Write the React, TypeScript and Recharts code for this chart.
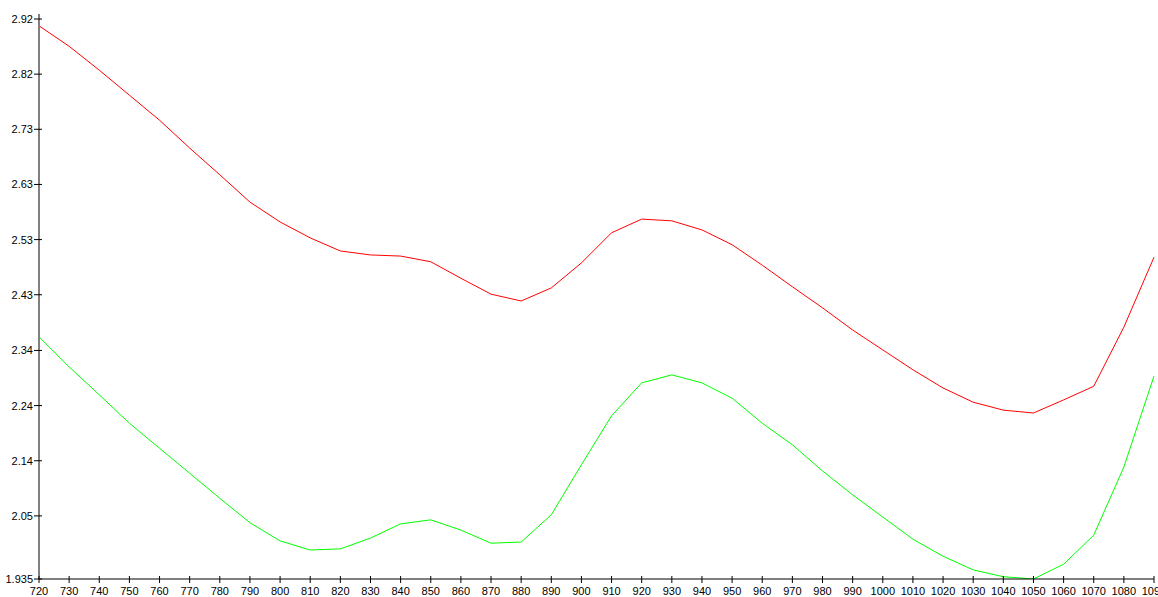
import React from 'react';
import { LineChart, Line, XAxis, YAxis } from 'recharts';

const wavelengths = [
  720, 730, 740, 750, 760, 770, 780, 790, 800, 810,
  820, 830, 840, 850, 860, 870, 880, 890, 900, 910,
  920, 930, 940, 950, 960, 970, 980, 990, 1000, 1010,
  1020, 1030, 1040, 1050, 1060, 1070, 1080, 1090,
];

const redSeries = [
  2.908, 2.872, 2.83, 2.786, 2.742, 2.693, 2.646, 2.598, 2.563, 2.535,
  2.512, 2.505, 2.503, 2.493, 2.464, 2.436, 2.424, 2.447, 2.491, 2.544,
  2.568, 2.565, 2.549, 2.523, 2.487, 2.449, 2.412, 2.373, 2.338, 2.303,
  2.271, 2.246, 2.232, 2.227, 2.25, 2.274, 2.378, 2.501,
];

const greenSeries = [
  2.361, 2.308, 2.259, 2.209, 2.165, 2.121, 2.077, 2.034, 2.002, 1.986,
  1.988, 2.007, 2.032, 2.039, 2.021, 1.998, 2.0, 2.048, 2.136, 2.222,
  2.28, 2.294, 2.28, 2.253, 2.209, 2.171, 2.125, 2.083, 2.044, 2.005,
  1.975, 1.951, 1.939, 1.935, 1.961, 2.012, 2.132, 2.292,
];

const yTicks = [1.935, 2.046, 2.143, 2.24, 2.337, 2.435, 2.532, 2.629, 2.726, 2.823, 2.92];
const yTickLabels = ['1.935', '2.05', '2.14', '2.24', '2.34', '2.43', '2.53', '2.63', '2.73', '2.82', '2.92'];

const data = wavelengths.map((x, i) => ({ x, red: redSeries[i], green: greenSeries[i] }));

const font = '"Liberation Sans", Arial, sans-serif';

function XTick(props: any) {
  const { x, y, payload } = props;
  return (
    <g>
      <line x1={x} y1={y - 3} x2={x} y2={y + 4} stroke="#000" />
      <text x={x} y={y + 16} textAnchor="middle" fontSize={11} fill="#000" fontFamily={font}>
        {payload.value}
      </text>
    </g>
  );
}

function YTick(props: any) {
  const { x, y, payload, index } = props;
  return (
    <g>
      <line x1={x - 5} y1={y} x2={x + 3} y2={y} stroke="#000" />
      <text x={x - 6} y={y + 4} textAnchor="end" fontSize={11} fill="#000" fontFamily={font}>
        {yTickLabels[index] ?? payload.value}
      </text>
    </g>
  );
}

export default function App() {
  return (
    <div style={{ position: 'absolute', left: 0, top: 0, width: 1158, height: 597, background: '#fff' }}>
      <LineChart width={1158} height={597} data={data} margin={{ top: 14, right: 4, left: 0, bottom: 0 }}>
        <XAxis
          dataKey="x"
          type="number"
          domain={[720, 1090]}
          ticks={wavelengths}
          interval={0}
          height={18}
          tickSize={0}
          tickMargin={0}
          tickLine={false}
          axisLine={{ stroke: '#000', strokeWidth: 1 }}
          tick={<XTick />}
        />
        <YAxis
          type="number"
          domain={[1.935, 2.9288]}
          ticks={yTicks}
          interval={0}
          width={39}
          tickSize={0}
          tickMargin={0}
          tickLine={false}
          axisLine={{ stroke: '#808080', strokeWidth: 2 }}
          tick={<YTick />}
          allowDataOverflow
        />
        <Line type="linear" dataKey="red" stroke="#ff0000" strokeWidth={1} dot={false} isAnimationActive={false} />
        <Line type="linear" dataKey="green" stroke="#00ff00" strokeWidth={1} dot={false} isAnimationActive={false} />
      </LineChart>
    </div>
  );
}
